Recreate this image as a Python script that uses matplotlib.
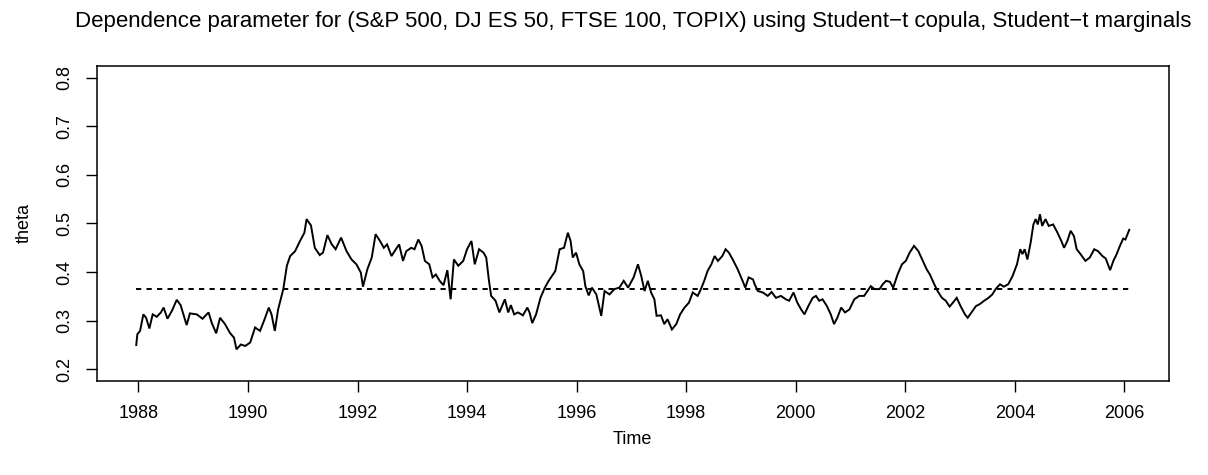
import matplotlib.pyplot as plt

# theta estimates along the rolling window (decimal year, value)
years = [
    1987.96, 1987.98, 1988.03, 1988.09, 1988.14, 1988.20, 1988.26, 1988.335, 1988.41, 1988.46,
    1988.53, 1988.61, 1988.70, 1988.77, 1988.88, 1988.94, 1989.065, 1989.17, 1989.28, 1989.34,
    1989.42, 1989.49, 1989.58, 1989.67, 1989.745, 1989.79, 1989.87, 1989.95, 1990.04,
    1990.13, 1990.22, 1990.30, 1990.38, 1990.43, 1990.49, 1990.55, 1990.645, 1990.71, 1990.77,
    1990.86, 1990.95, 1991.03, 1991.07, 1991.15, 1991.22, 1991.31, 1991.37, 1991.45, 1991.53,
    1991.60, 1991.70, 1991.80, 1991.89, 1991.98, 1992.06, 1992.10, 1992.18, 1992.26, 1992.33,
    1992.41, 1992.48, 1992.54, 1992.62, 1992.70, 1992.76, 1992.83, 1992.89, 1992.98, 1993.04,
    1993.11, 1993.17, 1993.23, 1993.31, 1993.37, 1993.43, 1993.50, 1993.57, 1993.64, 1993.70,
    1993.76, 1993.84, 1993.93, 1994.00, 1994.08, 1994.14, 1994.22, 1994.30, 1994.35, 1994.40,
    1994.44, 1994.52, 1994.59,
    1994.69, 1994.75, 1994.80, 1994.86, 1994.93, 1995.02, 1995.10, 1995.14, 1995.19, 1995.26,
    1995.34, 1995.42, 1995.49, 1995.55, 1995.61, 1995.69, 1995.77, 1995.84, 1995.89, 1995.93,
    1995.99, 1996.05, 1996.12, 1996.16, 1996.22, 1996.28, 1996.36, 1996.45, 1996.51, 1996.60,
    1996.69, 1996.78, 1996.86, 1996.94,
    1997.04, 1997.12, 1997.18, 1997.24, 1997.30, 1997.36, 1997.42, 1997.46, 1997.54, 1997.60,
    1997.66, 1997.74, 1997.82, 1997.89, 1997.97, 1998.05, 1998.12, 1998.21, 1998.27, 1998.33,
    1998.39, 1998.46, 1998.52, 1998.58, 1998.66, 1998.72, 1998.78, 1998.85, 1998.94, 1999.03,
    1999.08, 1999.14, 1999.22,
    1999.25, 1999.31, 1999.40, 1999.49, 1999.56, 1999.64, 1999.73, 1999.82, 1999.88, 1999.96,
    2000.03, 2000.10, 2000.16, 2000.23, 2000.31, 2000.37, 2000.43, 2000.49, 2000.57, 2000.64,
    2000.70, 2000.76, 2000.83, 2000.90, 2000.98, 2001.07, 2001.16, 2001.25, 2001.31, 2001.37,
    2001.44,
    2001.53, 2001.59, 2001.65, 2001.72, 2001.78, 2001.86, 2001.94, 2002.01, 2002.08, 2002.16,
    2002.24, 2002.32, 2002.39, 2002.45, 2002.53, 2002.59, 2002.67, 2002.74, 2002.81, 2002.87,
    2002.94, 2003.01, 2003.09, 2003.14, 2003.21, 2003.29, 2003.36, 2003.44, 2003.52, 2003.59,
    2003.65, 2003.73,
    2003.80, 2003.88, 2003.96, 2004.04, 2004.10, 2004.14, 2004.18, 2004.23, 2004.29, 2004.34,
    2004.38, 2004.42, 2004.46, 2004.50, 2004.56, 2004.62, 2004.70, 2004.78, 2004.85, 2004.90,
    2004.96, 2005.02, 2005.08, 2005.13, 2005.20, 2005.29, 2005.37, 2005.45, 2005.52, 2005.60,
    2005.66, 2005.74, 2005.80, 2005.86, 2005.92, 2005.98, 2006.02, 2006.07, 2006.09,
]

theta = [
    0.250, 0.272, 0.279, 0.313, 0.306, 0.284, 0.313, 0.308, 0.317, 0.327,
    0.304, 0.320, 0.343, 0.332, 0.291, 0.315, 0.313, 0.304, 0.317, 0.295,
    0.274, 0.306, 0.293, 0.275, 0.265, 0.241, 0.251, 0.248, 0.255,
    0.286, 0.279, 0.302, 0.327, 0.313, 0.279, 0.323, 0.365, 0.413, 0.433,
    0.443, 0.464, 0.481, 0.509, 0.496, 0.450, 0.435, 0.440, 0.476, 0.457,
    0.447, 0.471, 0.443, 0.426, 0.416, 0.399, 0.370, 0.406, 0.430, 0.478,
    0.464, 0.450, 0.457, 0.433, 0.447, 0.457, 0.423, 0.443, 0.450, 0.447,
    0.467, 0.454, 0.423, 0.416, 0.389, 0.395, 0.382, 0.373, 0.404, 0.344,
    0.426, 0.413, 0.423, 0.447, 0.464, 0.416, 0.447, 0.440, 0.430, 0.382,
    0.351, 0.341, 0.317,
    0.344, 0.317, 0.332, 0.313, 0.317, 0.311, 0.327, 0.317, 0.295, 0.313,
    0.347, 0.368, 0.382, 0.392, 0.402, 0.447, 0.450, 0.481, 0.464, 0.430,
    0.440, 0.416, 0.402, 0.371, 0.352, 0.368, 0.354, 0.310, 0.361, 0.354,
    0.365, 0.368, 0.382, 0.368,
    0.389, 0.416, 0.392, 0.361, 0.382, 0.358, 0.344, 0.310, 0.311, 0.293,
    0.303, 0.282, 0.293, 0.313, 0.327, 0.337, 0.358, 0.351, 0.365, 0.382,
    0.402, 0.416, 0.433, 0.423, 0.433, 0.447, 0.440, 0.426, 0.406, 0.382,
    0.368, 0.389, 0.385,
    0.375, 0.361, 0.358, 0.351, 0.359, 0.347, 0.351, 0.344, 0.341, 0.358,
    0.337, 0.323, 0.313, 0.330, 0.347, 0.351, 0.341, 0.344, 0.330, 0.313,
    0.293, 0.306, 0.327, 0.317, 0.323, 0.344, 0.351, 0.351, 0.361, 0.371,
    0.365,
    0.365, 0.375, 0.382, 0.380, 0.368, 0.395, 0.416, 0.423, 0.440, 0.454,
    0.443, 0.423, 0.406, 0.395, 0.375, 0.361, 0.347, 0.341, 0.329, 0.337,
    0.347, 0.330, 0.313, 0.306, 0.317, 0.330, 0.334, 0.341, 0.347, 0.354,
    0.365, 0.375,
    0.370, 0.375, 0.392, 0.416, 0.447, 0.437, 0.447, 0.426, 0.461, 0.498,
    0.509, 0.498, 0.519, 0.495, 0.509, 0.495, 0.498, 0.481, 0.464, 0.450,
    0.464, 0.485, 0.474, 0.447, 0.437, 0.423, 0.430, 0.447, 0.443, 0.433,
    0.428, 0.404, 0.423, 0.437, 0.454, 0.469, 0.467, 0.481, 0.487,
]

# constant (full-sample) dependence parameter
theta_const = 0.366

x_ticks = list(range(1988, 2007, 2))
y_ticks = [0.2, 0.3, 0.4, 0.5, 0.6, 0.7, 0.8]

title = ("Dependence parameter for (S&P 500, DJ ES 50, FTSE 100, TOPIX) "
         "using Student\u2212t copula, Student\u2212t marginals")


def r_limits(lo, hi):
    # R pads the data range by 4% on both sides
    pad = 0.04 * (hi - lo)
    return lo - pad, hi + pad


def main():
    plt.rcParams['font.family'] = ['Liberation Sans', 'DejaVu Sans']
    fig = plt.figure(figsize=(12.08, 4.75), dpi=100)
    ax = fig.add_axes([0.0799, 0.198, 0.8878, 0.663])

    ax.plot(years, theta, color='black', lw=1.4, solid_joinstyle='miter')
    ax.plot([years[0], years[-1]], [theta_const, theta_const], color='black',
            lw=1.4, dashes=(2.7, 2.7))

    ax.set_xlim(*r_limits(years[0], years[-1]))
    ax.set_ylim(*r_limits(0.2, 0.8))
    ax.set_xticks(x_ticks)
    ax.set_xticklabels([str(t) for t in x_ticks])
    ax.set_yticks(y_ticks)
    ax.set_yticklabels(['%.1f' % t for t in y_ticks], rotation=90, va='center')
    ax.tick_params(direction='out', length=8, width=1, labelsize=13, pad=9, color='black')
    for s in ax.spines.values():
        s.set_linewidth(1.1)

    ax.set_xlabel('Time', fontsize=13, labelpad=7)
    ax.set_ylabel('theta', fontsize=13, labelpad=17)
    ax.set_title(title, fontsize=16, pad=28)

    fig.savefig('out.png', dpi=100, facecolor='white')


if __name__ == "__main__":
    main()
